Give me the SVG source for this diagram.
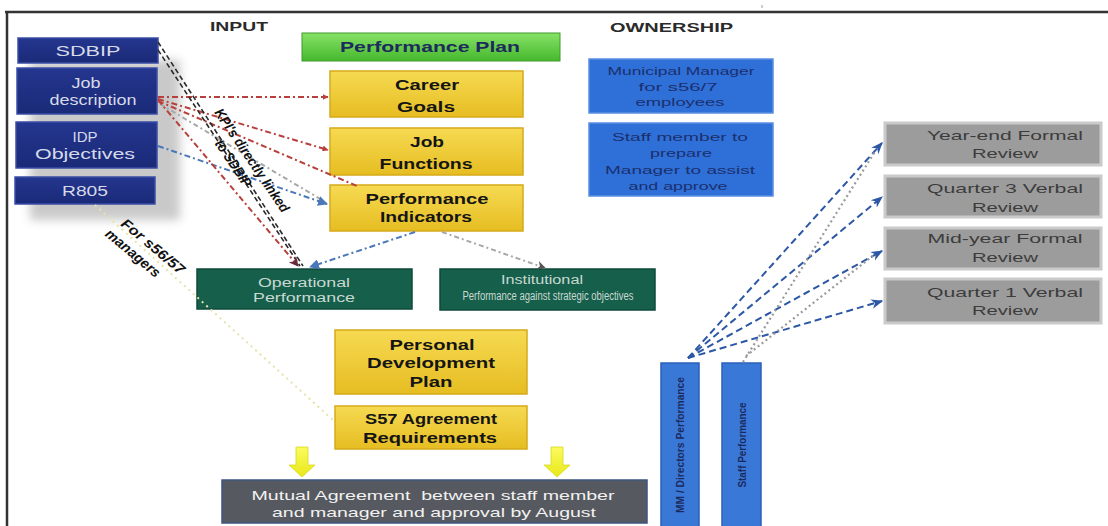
<svg xmlns="http://www.w3.org/2000/svg" width="1108" height="526" viewBox="0 0 1108 526">
<defs>
<style>
.t{font-family:"Liberation Sans",Arial,sans-serif;}
.lb text{font-size:14px;fill:#d6dae8;text-anchor:middle;}
.yb text{font-size:14px;font-weight:bold;fill:#151515;text-anchor:middle;}
.ob text{font-size:11px;fill:#1b2f6e;text-anchor:middle;}
.gb text{font-size:13px;fill:#3c3c3c;text-anchor:middle;}
.tb text{font-size:12px;fill:#c9d9d1;text-anchor:middle;}
.hdr{font-size:13px;font-weight:bold;fill:#2a2a2a;}
.lbl{font-size:14px;font-style:italic;font-weight:bold;fill:#111;text-anchor:middle;}
.red{fill:none;stroke:#b8403c;stroke-width:2;stroke-dasharray:6 3 2 3;}
.blu{fill:none;stroke:#4a78b8;stroke-width:2;stroke-dasharray:6 3 2 3;}
.gry{fill:none;stroke:#a8a8a8;stroke-width:2;stroke-dasharray:5 3 2 3;}
.drk{fill:none;stroke:#2a2a2a;stroke-width:1.6;stroke-dasharray:5 3;}
.nav{fill:none;stroke:#2b57a6;stroke-width:2;stroke-dasharray:7 4;}
.gdot{fill:none;stroke:#9a9a9a;stroke-width:2.2;stroke-dasharray:2 3;}
.ydot{fill:none;stroke:#e6e3a8;stroke-width:2;stroke-dasharray:2 4;}
.vt{font-size:11px;font-weight:bold;fill:#1b2a5c;text-anchor:middle;}
</style>
<linearGradient id="gy" x1="0" y1="0" x2="0" y2="1"><stop offset="0" stop-color="#f6da52"/><stop offset="1" stop-color="#e6bd22"/></linearGradient>
<linearGradient id="gg" x1="0" y1="0" x2="0" y2="1"><stop offset="0" stop-color="#86e266"/><stop offset="1" stop-color="#46b82e"/></linearGradient>
<linearGradient id="gn" x1="0" y1="0" x2="0" y2="1"><stop offset="0" stop-color="#24368e"/><stop offset="1" stop-color="#1a2a78"/></linearGradient>
<linearGradient id="ga" x1="0" y1="0" x2="0" y2="1"><stop offset="0" stop-color="#fbfb60"/><stop offset="1" stop-color="#e8e818"/></linearGradient>
<filter id="sh" x="-20%" y="-20%" width="140%" height="160%"><feGaussianBlur stdDeviation="5"/></filter>
<marker id="mr" viewBox="0 0 10 10" refX="9" refY="5" markerWidth="6" markerHeight="6" orient="auto" markerUnits="userSpaceOnUse"><path d="M0,0 L10,5 L0,10 z" fill="#b8403c"/></marker>
<marker id="mb" viewBox="0 0 10 10" refX="9" refY="5" markerWidth="10" markerHeight="10" orient="auto" markerUnits="userSpaceOnUse"><path d="M0,0 L10,5 L0,10 z" fill="#4a78b8"/></marker>
<marker id="md" viewBox="0 0 10 10" refX="9" refY="5" markerWidth="10" markerHeight="10" orient="auto" markerUnits="userSpaceOnUse"><path d="M0,0 L10,5 L0,10 L3,5 z" fill="#6a2a3a"/></marker>
<marker id="mg" viewBox="0 0 10 10" refX="9" refY="5" markerWidth="9" markerHeight="9" orient="auto" markerUnits="userSpaceOnUse"><path d="M0,0 L10,5 L0,10 L3,5 z" fill="#555"/></marker>
<marker id="mn" viewBox="0 0 10 10" refX="9" refY="5" markerWidth="12" markerHeight="12" orient="auto" markerUnits="userSpaceOnUse"><path d="M0,1 L10,5 L0,9 L3,5 z" fill="#2b57a6"/></marker>
</defs>
<rect width="1108" height="526" fill="#fff"/>
<g id="frame" fill="none" stroke="#333" stroke-width="2.5">
<path d="M5,12 L1108,12"/>
<path d="M7,12 L7,526"/>
<path d="M762,5 L762,8" stroke-width="1" stroke="#999"/>
</g>
<g class="t">
<text class="hdr" x="210" y="31" textLength="58" lengthAdjust="spacingAndGlyphs">INPUT</text>
<text class="hdr" x="610" y="32" textLength="123" lengthAdjust="spacingAndGlyphs">OWNERSHIP</text>
</g>
<rect x="30" y="60" width="150" height="160" fill="#8a8a8a" opacity="0.45" filter="url(#sh)"/>
<g id="n-sdbip" class="t lb"><rect x="18" y="38" width="140" height="25" fill="url(#gn)" stroke="#3a4ea6" stroke-width="1.5"/><text x="88" y="56" textLength="65" lengthAdjust="spacingAndGlyphs">SDBIP</text></g>
<g id="n-job" class="t lb"><rect x="17" y="68" width="140" height="46" fill="url(#gn)" stroke="#3a4ea6" stroke-width="1.5"/><text x="86" y="88" textLength="29" lengthAdjust="spacingAndGlyphs">Job</text><text x="93" y="105" textLength="87" lengthAdjust="spacingAndGlyphs">description</text></g>
<g id="n-idp" class="t lb"><rect x="16" y="122" width="141" height="46" fill="url(#gn)" stroke="#3a4ea6" stroke-width="1.5"/><text x="85" y="142" textLength="25" lengthAdjust="spacingAndGlyphs">IDP</text><text x="85" y="159" textLength="100" lengthAdjust="spacingAndGlyphs">Objectives</text></g>
<g id="n-r805" class="t lb"><rect x="15" y="177" width="140" height="27" fill="url(#gn)" stroke="#3a4ea6" stroke-width="1.5"/><text x="85" y="196" textLength="46" lengthAdjust="spacingAndGlyphs">R805</text></g>
<g id="n-plan" class="t"><rect x="302" y="33" width="258" height="28" fill="url(#gg)" stroke="#3f9a2a" stroke-width="1"/><text x="430" y="52" font-size="14" font-weight="bold" fill="#1c2b5c" text-anchor="middle" textLength="180" lengthAdjust="spacingAndGlyphs">Performance Plan</text></g>
<g id="n-career" class="t yb"><rect x="330" y="71" width="193" height="46" fill="url(#gy)" stroke="#d6aa1a" stroke-width="1.5"/><text x="427" y="90" textLength="64" lengthAdjust="spacingAndGlyphs">Career</text><text x="426" y="112" textLength="58" lengthAdjust="spacingAndGlyphs">Goals</text></g>
<g id="n-jobf" class="t yb"><rect x="330" y="128" width="193" height="47" fill="url(#gy)" stroke="#d6aa1a" stroke-width="1.5"/><text x="427" y="147" textLength="34" lengthAdjust="spacingAndGlyphs">Job</text><text x="426" y="169" textLength="93" lengthAdjust="spacingAndGlyphs">Functions</text></g>
<g id="n-pi" class="t yb"><rect x="330" y="185" width="193" height="46" fill="url(#gy)" stroke="#d6aa1a" stroke-width="1.5"/><text x="427" y="204" textLength="123" lengthAdjust="spacingAndGlyphs">Performance</text><text x="426" y="222" textLength="92" lengthAdjust="spacingAndGlyphs">Indicators</text></g>
<g id="n-mm" class="t ob"><rect x="589" y="59" width="184" height="54" fill="#2f6fd8" stroke="#5a8fe2" stroke-width="1.5"/><text x="681" y="75" textLength="147" lengthAdjust="spacingAndGlyphs">Municipal Manager</text><text x="678" y="91" textLength="79" lengthAdjust="spacingAndGlyphs">for s56/7</text><text x="680" y="106" textLength="89" lengthAdjust="spacingAndGlyphs">employees</text></g>
<g id="n-staff" class="t ob"><rect x="589" y="123" width="184" height="73" fill="#2f6fd8" stroke="#5a8fe2" stroke-width="1.5"/><text x="680" y="141" textLength="136" lengthAdjust="spacingAndGlyphs">Staff member  to</text><text x="681" y="157" textLength="62" lengthAdjust="spacingAndGlyphs">prepare</text><text x="680" y="174" textLength="150" lengthAdjust="spacingAndGlyphs">Manager to assist</text><text x="678" y="190" textLength="99" lengthAdjust="spacingAndGlyphs">and approve</text></g>
<g id="n-ye" class="t gb"><rect x="885" y="123" width="216" height="42" fill="#9c9c9c" stroke="#cacaca" stroke-width="3"/><text x="1005" y="140" textLength="156" lengthAdjust="spacingAndGlyphs">Year-end Formal</text><text x="1005" y="158" textLength="66" lengthAdjust="spacingAndGlyphs">Review</text></g>
<g id="n-q3" class="t gb"><rect x="885" y="176" width="216" height="41" fill="#9c9c9c" stroke="#cacaca" stroke-width="3"/><text x="1005" y="193" textLength="156" lengthAdjust="spacingAndGlyphs">Quarter 3 Verbal</text><text x="1005" y="212" textLength="66" lengthAdjust="spacingAndGlyphs">Review</text></g>
<g id="n-my" class="t gb"><rect x="885" y="228" width="216" height="41" fill="#9c9c9c" stroke="#cacaca" stroke-width="3"/><text x="1005" y="243" textLength="155" lengthAdjust="spacingAndGlyphs">Mid-year Formal</text><text x="1005" y="262" textLength="66" lengthAdjust="spacingAndGlyphs">Review</text></g>
<g id="n-q1" class="t gb"><rect x="885" y="279" width="216" height="44" fill="#9c9c9c" stroke="#cacaca" stroke-width="3"/><text x="1005" y="297" textLength="156" lengthAdjust="spacingAndGlyphs">Quarter 1 Verbal</text><text x="1005" y="315" textLength="66" lengthAdjust="spacingAndGlyphs">Review</text></g>
<g id="n-op" class="t tb"><rect x="197" y="269" width="215" height="40" fill="#155f4b" stroke="#0e4a3a" stroke-width="1.5"/><text x="304" y="287" textLength="92" lengthAdjust="spacingAndGlyphs">Operational</text><text x="304" y="302" textLength="102" lengthAdjust="spacingAndGlyphs">Performance</text></g>
<g id="n-inst" class="t tb"><rect x="440" y="269" width="215" height="41" fill="#155f4b" stroke="#0e4a3a" stroke-width="1.5"/><text x="542" y="284" font-size="9" textLength="82" lengthAdjust="spacingAndGlyphs">Institutional</text><text x="548" y="300" font-size="9" textLength="171" lengthAdjust="spacingAndGlyphs">Performance against strategic objectives</text></g>
<g id="n-pdp" class="t yb"><rect x="335" y="330" width="192" height="64" fill="url(#gy)" stroke="#d6aa1a" stroke-width="1.5"/><text x="432" y="350" textLength="85" lengthAdjust="spacingAndGlyphs">Personal</text><text x="431" y="368" textLength="128" lengthAdjust="spacingAndGlyphs">Development</text><text x="431" y="387" textLength="43" lengthAdjust="spacingAndGlyphs">Plan</text></g>
<g id="n-s57" class="t yb"><rect x="335" y="406" width="192" height="43" fill="url(#gy)" stroke="#d6aa1a" stroke-width="1.5"/><text x="431" y="424" textLength="132" lengthAdjust="spacingAndGlyphs">S57 Agreement</text><text x="430" y="443" textLength="134" lengthAdjust="spacingAndGlyphs">Requirements</text></g>
<g id="n-mutual" class="t"><rect x="222" y="480" width="425" height="43" fill="#56595f" stroke="#3d5582" stroke-width="1.5"/><text x="433" y="500" font-size="13" fill="#f2f2f2" text-anchor="middle" textLength="363" lengthAdjust="spacingAndGlyphs" xml:space="preserve">Mutual Agreement  between staff member</text><text x="434" y="517" font-size="13" fill="#f2f2f2" text-anchor="middle" textLength="324" lengthAdjust="spacingAndGlyphs">and manager and approval by August</text></g>
<g id="n-mmdir" class="t"><rect x="661" y="363" width="38" height="170" fill="#3a78d8" stroke="#2a5fb8" stroke-width="1.5"/><text class="vt" transform="translate(684,445) rotate(-90)" textLength="136" lengthAdjust="spacingAndGlyphs">MM / Directors Performance</text></g>
<g id="n-staffp" class="t"><rect x="722" y="363" width="39" height="170" fill="#3a78d8" stroke="#2a5fb8" stroke-width="1.5"/><text class="vt" transform="translate(746,445) rotate(-90)" textLength="85" lengthAdjust="spacingAndGlyphs">Staff Performance</text></g>
<g id="arrows-yellow" fill="url(#ga)" stroke="#d8d820" stroke-width="0.8">
<path d="M296,447 L308,447 L308,465 L315,465 L302,477 L289,465 L296,465 z"/>
<path d="M551,447 L563,447 L563,465 L570,465 L557,477 L544,465 L551,465 z"/>
</g>
<g id="connectors">
<path class="red" d="M158,97 L328,97" marker-end="url(#mr)"/>
<path class="red" d="M158,99 L328,150" marker-end="url(#mr)"/>
<path class="red" d="M158,101 L357,186"/>
<path class="gry" d="M160,104 L322,200"/>
<path class="blu" d="M158,146 L327,204" marker-end="url(#mb)"/>
<path class="drk" d="M158,42 L303,266"/>
<path class="drk" d="M158,50 L300,266" stroke-dasharray="7 3 2 3"/>
<path class="red" d="M158,100 L298,266" stroke-dasharray="2 5" marker-end="url(#md)"/>
<path class="blu" d="M415,232 L310,267" marker-end="url(#mb)"/>
<path class="gry" d="M442,232 L545,268" marker-end="url(#mg)"/>
<path class="ydot" d="M95,205 L333,420"/>
<path class="nav" d="M688,358 L882,143" marker-end="url(#mn)"/>
<path class="nav" d="M688,358 L882,197" marker-end="url(#mn)"/>
<path class="nav" d="M688,358 L882,251" marker-end="url(#mn)"/>
<path class="nav" d="M688,358 L882,301" marker-end="url(#mn)"/>
<path class="gdot" d="M743,362 L876,150"/>
<path class="gdot" d="M746,356 L874,255"/>
</g>
<g id="labels" class="t">
<g transform="translate(248,163) rotate(56)"><text class="lbl" x="0" y="0" textLength="122" lengthAdjust="spacingAndGlyphs">KPI's directly linked</text><text class="lbl" x="-8" y="17" textLength="54" lengthAdjust="spacingAndGlyphs">to SDBIP</text></g>
<g transform="translate(150,250) rotate(40)"><text class="lbl" x="0" y="0" textLength="78" lengthAdjust="spacingAndGlyphs">For s56/57</text><text class="lbl" x="-11" y="18" textLength="67" lengthAdjust="spacingAndGlyphs">managers</text></g>
</g>
</svg>
